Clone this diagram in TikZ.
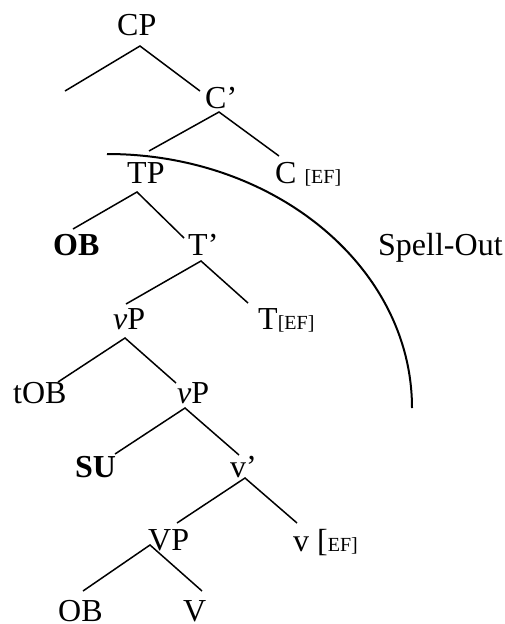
\documentclass[tikz,border=0pt]{standalone}
\usepackage{fontspec}
\setmainfont{Liberation Serif}
\newcommand\efsub[1]{{\fontsize{20}{24}\selectfont #1}}
\begin{document}
\begin{tikzpicture}[x=1pt,y=-1pt,
  lbl/.style={inner sep=0pt, anchor=base west, font=\fontsize{32}{38}\selectfont},
  branch/.style={line width=1.5pt},
  boundary/.style={line width=2pt}]
\useasboundingbox (0,0) rectangle (505,624);

% labels of the tree
\node[lbl] (CP)   at (117,35)  {CP};
\node[lbl] (Cbar) at (205,108) {C’};
\node[lbl] (TP)   at (127,183) {TP};
\node[lbl] (C)    at (275,183) {C \efsub{[EF]}};
\node[lbl] (OBhi) at (53,255)  {\textbf{OB}};
\node[lbl] (Tbar) at (188,255) {T’};
\node[lbl] (vPhi) at (113,329) {\textit{v}P};
\node[lbl] (T)    at (258,329) {T\efsub{[EF]}};
\node[lbl] (tOB)  at (13,403)  {tOB};
\node[lbl] (vPlo) at (177,403) {\textit{v}P};
\node[lbl] (SU)   at (75,477)  {\textbf{SU}};
\node[lbl] (vbar) at (230,477) {v’};
\node[lbl] (VP)   at (148,550) {VP};
\node[lbl] (v)    at (293,551) {v [\efsub{EF]}};
\node[lbl] (OBlo) at (58,621)  {OB};
\node[lbl] (V)    at (183,621) {V};
\node[lbl] (SO)   at (378,255) {Spell-Out};

% branching points below each mother node
\coordinate (CP-m)   at (140,46);
\coordinate (Cbar-m) at (219,112);
\coordinate (TP-m)   at (137,192);
\coordinate (Tbar-m) at (201,261);
\coordinate (vPhi-m) at (125,338);
\coordinate (vPlo-m) at (185,408);
\coordinate (vbar-m) at (245,478);
\coordinate (VP-m)   at (150,545);

% tops of the daughter branches
\coordinate (spec-d) at (65,91);
\coordinate (Cbar-d) at (200,91);
\coordinate (TP-d)   at (149,151);
\coordinate (C-d)    at (279,156);
\coordinate (OBhi-d) at (73,229);
\coordinate (Tbar-d) at (184,238);
\coordinate (vPhi-d) at (126,304);
\coordinate (T-d)    at (248,303);
\coordinate (tOB-d)  at (58,382);
\coordinate (vPlo-d) at (176,383);
\coordinate (SU-d)   at (115,454);
\coordinate (vbar-d) at (239,455);
\coordinate (VP-d)   at (177,523);
\coordinate (v-d)    at (297,523);
\coordinate (OBlo-d) at (83,591);
\coordinate (V-d)    at (202,591);

\draw[branch] (spec-d) -- (CP-m) -- (Cbar-d);
\draw[branch] (TP-d) -- (Cbar-m) -- (C-d);
\draw[branch] (OBhi-d) -- (TP-m) -- (Tbar-d);
\draw[branch] (vPhi-d) -- (Tbar-m) -- (T-d);
\draw[branch] (tOB-d) -- (vPhi-m) -- (vPlo-d);
\draw[branch] (SU-d) -- (vPlo-m) -- (vbar-d);
\draw[branch] (VP-d) -- (vbar-m) -- (v-d);
\draw[branch] (OBlo-d) -- (VP-m) -- (V-d);

% Spell-Out boundary: a quarter ellipse
\coordinate (so-a) at (107,154);
\coordinate (so-b) at (412,408);
\draw[boundary] (so-a) .. controls (275.4,154) and (412,267.7) .. (so-b);
\end{tikzpicture}
\end{document}
